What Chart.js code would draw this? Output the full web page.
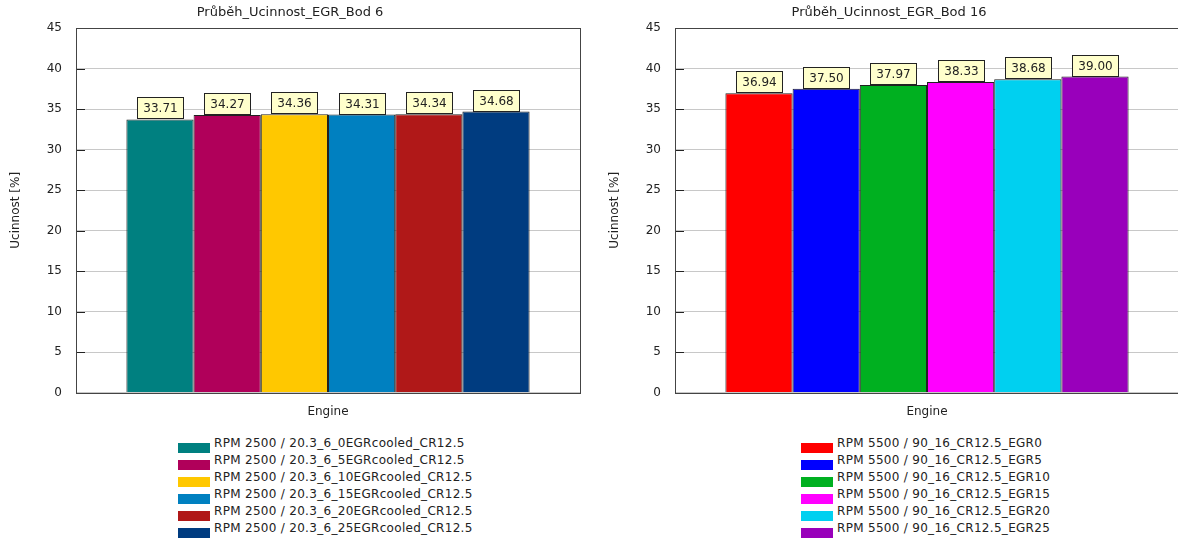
<!DOCTYPE html>
<html>
<head>
<meta charset="utf-8">
<script src="https://cdn.jsdelivr.net/npm/chart.js@4.4.0/dist/chart.umd.min.js"></script>
<style>
    body { margin: 0; background: #fff; width: 1178px; height: 540px; overflow: hidden; position: relative; font-family: "DejaVu Sans", sans-serif; }
    .panel { position: absolute; top: 0; }
    .legend { position: absolute; top: 435px; font-size: 12px; color: #222; letter-spacing: 0.3px; }
    .legend .row { display: flex; align-items: flex-start; height: 17px; line-height: 17px; white-space: nowrap; }
    .legend .box { width: 32px; height: 10px; margin-top: 8px; margin-right: 4px; flex: none; }
</style>
</head>
<body>
<div class="panel" style="left:0"><canvas id="chartBod6" width="590" height="423"></canvas></div>
<div class="panel" style="left:599px"><canvas id="chartBod16" width="590" height="423"></canvas></div>
<div class="legend" id="legendBod6" style="left:178px"></div>
<div class="legend" id="legendBod16" style="left:801px"></div>

<script>
// Bod 6
const bod6Labels = [
    "RPM 2500 / 20.3_6_0EGRcooled_CR12.5",
    "RPM 2500 / 20.3_6_5EGRcooled_CR12.5",
    "RPM 2500 / 20.3_6_10EGRcooled_CR12.5",
    "RPM 2500 / 20.3_6_15EGRcooled_CR12.5",
    "RPM 2500 / 20.3_6_20EGRcooled_CR12.5",
    "RPM 2500 / 20.3_6_25EGRcooled_CR12.5"
];
const bod6Values = [33.71, 34.27, 34.36, 34.31, 34.34, 34.68];
const bod6Colors = ['#008080', '#b0005a', '#ffc800', '#0080c0', '#b01818', '#003c80'];

// Bod 16
const bod16Labels = [
    "RPM 5500 / 90_16_CR12.5_EGR0",
    "RPM 5500 / 90_16_CR12.5_EGR5",
    "RPM 5500 / 90_16_CR12.5_EGR10",
    "RPM 5500 / 90_16_CR12.5_EGR15",
    "RPM 5500 / 90_16_CR12.5_EGR20",
    "RPM 5500 / 90_16_CR12.5_EGR25"
];
const bod16Values = [36.94, 37.50, 37.97, 38.33, 38.68, 39.00];
const bod16Colors = ['#ff0000', '#0000ff', '#00b020', '#ff00ff', '#00d0f0', '#9900bb'];

const categories = ["Engine"];
const yTicks = { min: 0, max: 45, step: 5 };

const FONT = "DejaVu Sans";
const TEXT = '#222';

// ramecek, vnitrni ticky, popisky hodnot
const plotExtras = {
    id: 'plotExtras',
    afterDatasetsDraw(chart) {
        const ctx = chart.ctx;
        const area = chart.chartArea;
        const y = chart.scales.y;

        ctx.save();
        ctx.strokeStyle = '#222';
        ctx.lineWidth = 1;
        y.ticks.forEach(t => {
            const py = Math.round(y.getPixelForValue(t.value)) + 0.5;
            ctx.beginPath();
            ctx.moveTo(area.left, py);
            ctx.lineTo(area.left + 9, py);
            ctx.stroke();
        });

        ctx.strokeStyle = '#444';
        ctx.strokeRect(Math.round(area.left) + 0.5, Math.round(area.top) + 0.5,
            Math.round(area.right - area.left), Math.round(area.bottom - area.top));

        ctx.font = '12px "' + FONT + '"';
        ctx.textAlign = 'center';
        ctx.textBaseline = 'middle';
        chart.data.datasets.forEach((ds, i) => {
            const bar = chart.getDatasetMeta(i).data[0];
            const txt = ds.data[0].toFixed(2);
            const w = Math.round(ctx.measureText(txt).width + 12);
            const h = 21;
            const x0 = Math.round(bar.x - w / 2) + 0.5;
            const y0 = Math.round(bar.y - 1 - h) + 0.5;
            ctx.fillStyle = '#ffffcc';
            ctx.fillRect(x0, y0, w, h);
            ctx.strokeStyle = '#222';
            ctx.strokeRect(x0, y0, w, h);
            ctx.fillStyle = TEXT;
            ctx.fillText(txt, x0 + w / 2, y0 + h / 2 + 1);
        });
        ctx.restore();
    }
};

function makeChart(canvasId, legendId, title, labels, values, colors) {
    const datasets = labels.map((lab, i) => ({
        label: lab,
        data: [values[i]],
        backgroundColor: colors[i],
        borderColor: '#222',
        borderWidth: 1,
        categoryPercentage: 0.8,
        barPercentage: 1.0
    }));

    new Chart(document.getElementById(canvasId), {
        type: 'bar',
        data: { labels: categories, datasets: datasets },
        plugins: [plotExtras],
        options: {
            responsive: false,
            animation: false,
            devicePixelRatio: 1,
            layout: { padding: { left: 0, right: 10, top: 0, bottom: 0 } },
            plugins: {
                legend: { display: false },
                tooltip: { enabled: false },
                title: {
                    display: true,
                    text: title,
                    color: TEXT,
                    font: { family: FONT, size: 13, weight: 'normal' },
                    padding: { top: 5, bottom: 7.4 }
                }
            },
            scales: {
                x: {
                    ticks: { display: false },
                    grid: { display: false, drawTicks: false },
                    border: { display: false },
                    title: {
                        display: true,
                        text: 'Engine',
                        color: TEXT,
                        font: { family: FONT, size: 12 },
                        padding: { top: 12, bottom: 4 }
                    }
                },
                y: {
                    min: yTicks.min,
                    max: yTicks.max,
                    afterFit: scale => { scale.width = 76; },
                    ticks: {
                        stepSize: yTicks.step,
                        padding: 14,
                        color: TEXT,
                        font: { family: FONT, size: 12 }
                    },
                    grid: { color: '#c8c8c8', drawTicks: false },
                    border: { display: false },
                    title: {
                        display: true,
                        text: 'Ucinnost [%]',
                        color: TEXT,
                        font: { family: FONT, size: 12 },
                        padding: { top: 9, bottom: 0 }
                    }
                }
            }
        }
    });

    // legenda pod grafem
    const leg = document.getElementById(legendId);
    labels.forEach((lab, i) => {
        const row = document.createElement('div');
        row.className = 'row';
        row.innerHTML = '<span class="box" style="background:' + colors[i] + '"></span><span>' + lab + '</span>';
        leg.appendChild(row);
    });
}

makeChart('chartBod6', 'legendBod6', 'Průběh_Ucinnost_EGR_Bod 6', bod6Labels, bod6Values, bod6Colors);
makeChart('chartBod16', 'legendBod16', 'Průběh_Ucinnost_EGR_Bod 16', bod16Labels, bod16Values, bod16Colors);
</script>
</body>
</html>
